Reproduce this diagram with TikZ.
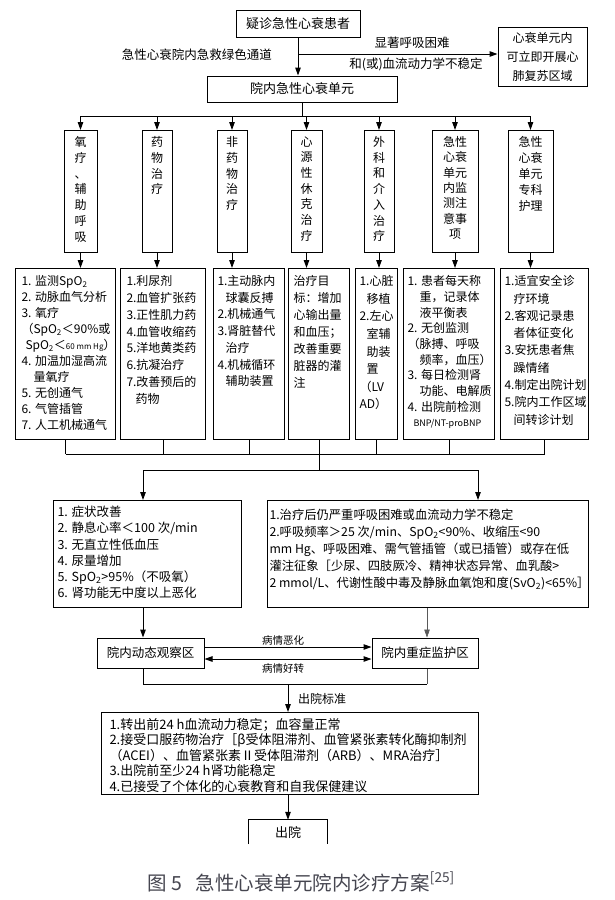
\documentclass[tikz,border=0pt]{standalone}
\usepackage{fontspec}
\setmainfont{Noto Sans CJK SC}
\usetikzlibrary{arrows.meta,calc}
\definecolor{capgray}{RGB}{70,70,80}
\tikzset{
  box/.style={draw, line width=1pt, inner sep=0pt},
  conn/.style={line width=1pt},
  thinconn/.style={line width=0.6pt, draw=black!65},
  arr/.style={line width=1pt, -{Triangle[length=8pt,width=5.5pt]}},
  thinarr/.style={line width=0.6pt, draw=black!65, -{Triangle[length=8pt,width=5.5pt]}, fill=black},
  dblarr/.style={line width=1pt, {Triangle[length=8pt,width=5.5pt]}-{Triangle[length=8pt,width=5.5pt]}},
  lbl/.style={inner sep=0pt},
  colhead/.style={box, anchor=north, minimum height=122pt},
  colbody/.style={box, anchor=north west, minimum height=171pt},
}
\newcommand{\tb}[3]{\parbox[c][#2][t]{#1}{\raggedright #3}}
\begin{document}
\begin{tikzpicture}[x=1pt,y=-1pt]
\fill[white] (0,0) rectangle (615,900);
\useasboundingbox (0,0) rectangle (615,900);

% top part
\node[box, minimum width=124pt, minimum height=27pt] (A) at (298,23.5) {\fontsize{13}{13}\selectfont 疑诊急性心衰患者};
\node[box, minimum width=190pt, minimum height=26pt] (B) at (302,89) {\fontsize{13}{13}\selectfont 院内急性心衰单元};
\node[box, minimum width=89pt, minimum height=59pt, align=center, font=\fontsize{12}{19}\selectfont] (C) at (542.5,56.5) {心衰单元内\\可立即开展心\\肺复苏区域};
\coordinate (br) at (298,54);
\draw[arr] (A.south) -- (A.south |- B.north);
\draw[arr] (br) -- (br -| C.west);
\node[lbl, anchor=east, font=\fontsize{12.5}{12.5}\selectfont] (gl) at (272,55) {急性心衰院内急救绿色通道};
\node[lbl, font=\fontsize{12.5}{12.5}\selectfont] (s1) at (412,43) {显著呼吸困难};
\node[lbl, font=\fontsize{12.5}{12.5}\selectfont] (s2) at (416,64) {和(或)血流动力学不稳定};

% column headers
\node[colhead, minimum width=33pt] (H1) at (80.5,130) {\tb{30pt}{110pt}{\centering\fontsize{12}{15.8}\selectfont 氧\\疗\\、\\辅\\助\\呼\\吸}};
\node[colhead, minimum width=30pt] (H2) at (157,130) {\tb{28pt}{110pt}{\centering\fontsize{12}{15.8}\selectfont 药\\物\\治\\疗}};
\node[colhead, minimum width=30pt] (H3) at (232,130) {\tb{28pt}{110pt}{\centering\fontsize{12}{15.8}\selectfont 非\\药\\物\\治\\疗}};
\node[colhead, minimum width=31pt] (H4) at (306.5,130) {\tb{28pt}{110pt}{\centering\fontsize{12}{15.7}\selectfont 心\\源\\性\\休\\克\\治\\疗}};
\node[colhead, minimum width=30pt] (H5) at (379,130) {\tb{28pt}{110pt}{\centering\fontsize{12}{15.7}\selectfont 外\\科\\和\\介\\入\\治\\疗}};
\node[colhead, minimum width=46pt] (H6) at (455,130) {\tb{42pt}{110pt}{\centering\fontsize{12}{15.3}\selectfont 急性\\心衰\\单元\\内监\\测注\\意事\\项}};
\node[colhead, minimum width=45pt] (H7) at (530.5,130) {\tb{42pt}{110pt}{\centering\fontsize{12}{16}\selectfont 急性\\心衰\\单元\\专科\\护理}};

\coordinate (hb) at (302,116);
\draw[conn] (B.south) -- (hb);
\draw[conn] (H1.north |- hb) -- (H7.north |- hb);
\foreach \i in {1,...,7}{\draw[arr] (H\i.north |- hb) -- (H\i.north);}

% column bodies
\node[colbody, minimum width=100pt] (L1) at (15,268) {\tb{88pt}{157pt}{\fontsize{12}{16}\selectfont
1. 监测SpO\textsubscript{2}\\
2. 动脉血气分析\\
3. 氧疗\\
（SpO\textsubscript{2}＜90\%或\\
\hspace*{4pt}\mbox{SpO\textsubscript{2}＜{\fontsize{8}{8}\selectfont 60~mm~Hg}）}\\
4. 加温加湿高流\\
\hspace*{12pt}量氧疗\\
5. 无创通气\\
6. 气管插管\\
7. 人工机械通气}};
\node[colbody, minimum width=85pt] (L2) at (120,268) {\tb{73pt}{157pt}{\fontsize{12}{16.8}\selectfont
1.利尿剂\\
2.血管扩张药\\
3.正性肌力药\\
4.血管收缩药\\
5.洋地黄类药\\
6.抗凝治疗\\
7.改善预后的\\
\hspace*{9pt}药物}};
\node[colbody, minimum width=71pt] (L3) at (213,268) {\tb{63pt}{157pt}{\fontsize{12}{16.7}\selectfont
1.主动脉内\\
\hspace*{8pt}球囊反搏\\
2.机械通气\\
3.肾脏替代\\
\hspace*{8pt}治疗\\
4.机械循环\\
\hspace*{8pt}辅助装置}};
\node[colbody, minimum width=61pt] (L4) at (288,268) {\tb{51pt}{157pt}{\fontsize{12}{17}\selectfont
治疗目\\
标：增加\\
心输出量\\
和血压；\\
改善重要\\
脏器的灌\\
注}};
\node[colbody, minimum width=42pt] (L5) at (355,268) {\tb{34pt}{157pt}{\fontsize{12}{17.6}\selectfont
1.心脏\\
\hspace*{7pt}移植\\
2.左心\\
\hspace*{7pt}室辅\\
\hspace*{7pt}助装\\
\hspace*{7pt}置\\
（LV\\
AD）}};
\node[colbody, minimum width=91pt] (L6) at (403,268) {\tb{83pt}{157pt}{\fontsize{12}{15.7}\selectfont
1. 患者每天称\\
\hspace*{12pt}重，记录体\\
\hspace*{12pt}液平衡表\\
2. 无创监测\\
（脉搏、呼吸\\
\hspace*{12pt}频率，血压）\\
3. 每日检测肾\\
\hspace*{12pt}功能、电解质\\
4. 出院前检测\\
\hspace*{6pt}{\fontsize{9}{9}\selectfont BNP/NT-proBNP}}};
\node[colbody, minimum width=88pt] (L7) at (500,268) {\tb{80pt}{157pt}{\fontsize{12}{17.3}\selectfont
1.适宜安全诊\\
\hspace*{9pt}疗环境\\
2.客观记录患\\
\hspace*{9pt}者体征变化\\
3.安抚患者焦\\
\hspace*{9pt}躁情绪\\
4.制定出院计划\\
5.院内工作区域\\
\hspace*{9pt}间转诊计划}};

\foreach \i in {1,...,7}{\draw[arr] (H\i.south) -- (H\i.south |- L\i.north);}

% gathering lines
\coordinate (hl) at (0,454);
\coordinate (hm) at (0,470);
\foreach \i in {1,...,7}{\draw[conn] (L\i.south) -- (L\i.south |- hl);}
\draw[conn] (L1.south |- hl) -- (L7.south |- hl);
\draw[conn] (L4.south |- hl) -- (L4.south |- hm);
\coordinate (dl) at (143,470);
\coordinate (dr) at (478,470);
\draw[conn] (dl) -- (dr);

% criteria boxes
\node[box, anchor=north west, minimum width=188pt, minimum height=107pt] (D) at (53,500) {\tb{180pt}{95.5pt}{\fontsize{12.5}{16.2}\selectfont
1. 症状改善\\
2. 静息心率＜100~次/min\\
3. 无直立性低血压\\
4. 尿量增加\\
5. SpO\textsubscript{2}>95\%（不吸氧）\\
6. 肾功能无中度以上恶化}};
\node[box, anchor=north west, minimum width=321pt, minimum height=107pt] (E) at (267,500) {\tb{317pt}{90pt}{\fontsize{12.3}{17}\selectfont
\mbox{1.治疗后仍严重呼吸困难或血流动力学不稳定}\\
\mbox{2.呼吸频率＞25~次/min、SpO\textsubscript{2}<90\%、收缩压<90}\\
\mbox{mm~Hg、呼吸困难、需气管插管（或已插管）或存在低}\\
\mbox{灌注征象［少尿、四肢厥冷、精神状态异常、血乳酸>}\\
\mbox{2~mmol/L、代谢性酸中毒及静脉血氧饱和度(SvO\textsubscript{2})<65\%］}}};
\draw[arr] (dl) -- (dl |- D.north);
\draw[arr] (dr) -- (dr |- E.north);

% zones
\node[box, minimum width=107pt, minimum height=30pt] (F) at (150.5,653) {\fontsize{12.5}{12.5}\selectfont 院内动态观察区};
\node[box, minimum width=106pt, minimum height=30pt] (G) at (425,653) {\fontsize{12.5}{12.5}\selectfont 院内重症监护区};
\coordinate (fb) at (143,684);
\coordinate (gb) at (427,684);
\draw[arr] (dl |- D.south) -- (dl |- F.north);
\draw[thinarr] (gb |- E.south) -- (gb |- G.north);
\draw[arr] ($(F.east)+(0,-6)$) -- ($(G.west)+(0,-6)$);
\draw[dblarr] ($(F.east)+(0,6)$) -- ($(G.west)+(0,6)$);
\node[lbl, font=\fontsize{10.5}{10.5}\selectfont] (w1) at (283,640) {病情恶化};
\node[lbl, font=\fontsize{10.5}{10.5}\selectfont] (w2) at (283,668) {病情好转};
\draw[conn] (fb |- F.south) -- (fb) -- (gb);
\draw[thinconn] (gb) -- (gb |- G.south);

% discharge
\node[box, anchor=north west, minimum width=377pt, minimum height=82pt] (H) at (101,712) {\tb{361pt}{71pt}{\fontsize{13}{15.5}\selectfont
1.转出前24~h血流动力稳定；血容量正常\\
\mbox{2.接受口服药物治疗［β受体阻滞剂、血管紧张素转化酶抑制剂}\\
\mbox{（ACEI）、血管紧张素Ⅱ受体阻滞剂（ARB）、MRA治疗］}\\
3.出院前至少24~h肾功能稳定\\
4.已接受了个体化的心衰教育和自我保健建议}};
\coordinate (hx) at (288,684);
\draw[arr] (hx) -- (hx |- H.north);
\node[lbl, anchor=west, font=\fontsize{12}{12}\selectfont] (crit) at (298,699) {出院标准};
\node[inner sep=0pt, minimum width=78pt, minimum height=24pt] (I) at (288,832) {\fontsize{13}{13}\selectfont 出院};
\draw[line width=1pt] (I.south west) -- (I.north west) -- (I.north east) -- (I.south east);
\draw[arr] (H.south -| I.north) -- (I.north);

% caption
\node[lbl, text=capgray, font=\fontsize{19.5}{19.5}\selectfont] (cap) at (301,882) {图 5\hspace{14pt}急性心衰单元院内诊疗方案\textsuperscript{[25]}};
\end{tikzpicture}
\end{document}
